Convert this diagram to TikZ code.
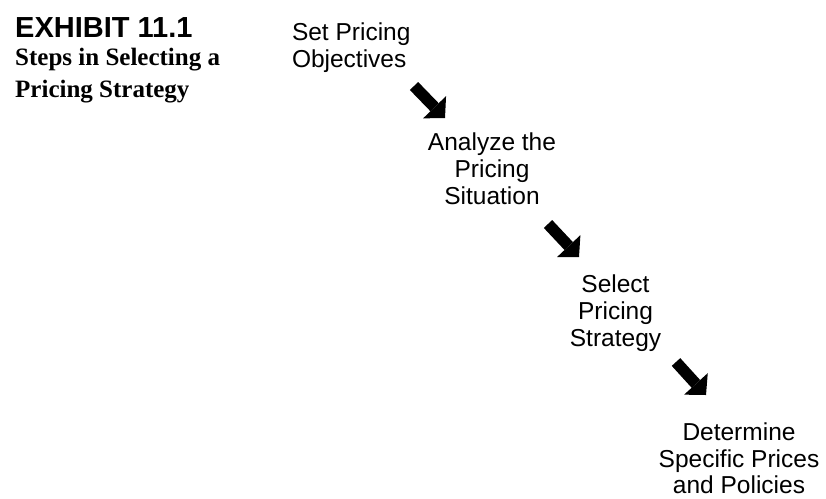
\documentclass[tikz,border=0pt]{standalone}
\usepackage{fontspec}
\setmainfont{Liberation Sans}
\newfontfamily\serifbold{Liberation Serif}
\usetikzlibrary{arrows.meta}
\tikzset{
  steptext/.style={font=\fontsize{24.5}{27}\selectfont, inner sep=0pt, outer sep=0pt},
  blockarrow/.style={line width=11.5pt, draw=black,
    -{Triangle[length=15pt, width=32pt, line width=0pt]}},
}
\begin{document}
\begin{tikzpicture}[x=1pt, y=-1pt]
\useasboundingbox (0,0) rectangle (826,498);
% title
\node[anchor=base west, inner sep=0pt, font=\fontsize{29}{30}\selectfont\bfseries] (exh) at (15,37) {EXHIBIT 11.1};
\node[anchor=base west, inner sep=0pt, font=\serifbold\fontsize{25}{32}\selectfont\bfseries] (sub1) at (15,65.5) {Steps in Selecting a};
\node[anchor=base west, inner sep=0pt, font=\serifbold\fontsize{25}{32}\selectfont\bfseries] (sub2) at (15,97.5) {Pricing Strategy};
% steps
\node[steptext, anchor=north west, align=left] (s1) at (292,23) {Set Pricing\\Objectives};
\node[steptext, anchor=north, align=center] (s2) at (492,133) {Analyze the\\Pricing\\Situation};
\node[steptext, anchor=north, align=center] (s3) at (615.5,275) {Select\\Pricing\\Strategy};
\node[steptext, anchor=north, align=center, font=\fontsize{24.5}{26.5}\selectfont] (s4) at (739,423) {Determine\\Specific Prices\\and Policies};
% arrows
\coordinate (a1s) at (414,86);  \coordinate (a1e) at (445,118);
\coordinate (a2s) at (548,224); \coordinate (a2e) at (579,257);
\coordinate (a3s) at (676,362); \coordinate (a3e) at (706,395);
\draw[blockarrow] (a1s) -- (a1e);
\draw[blockarrow] (a2s) -- (a2e);
\draw[blockarrow] (a3s) -- (a3e);
\end{tikzpicture}
\end{document}
